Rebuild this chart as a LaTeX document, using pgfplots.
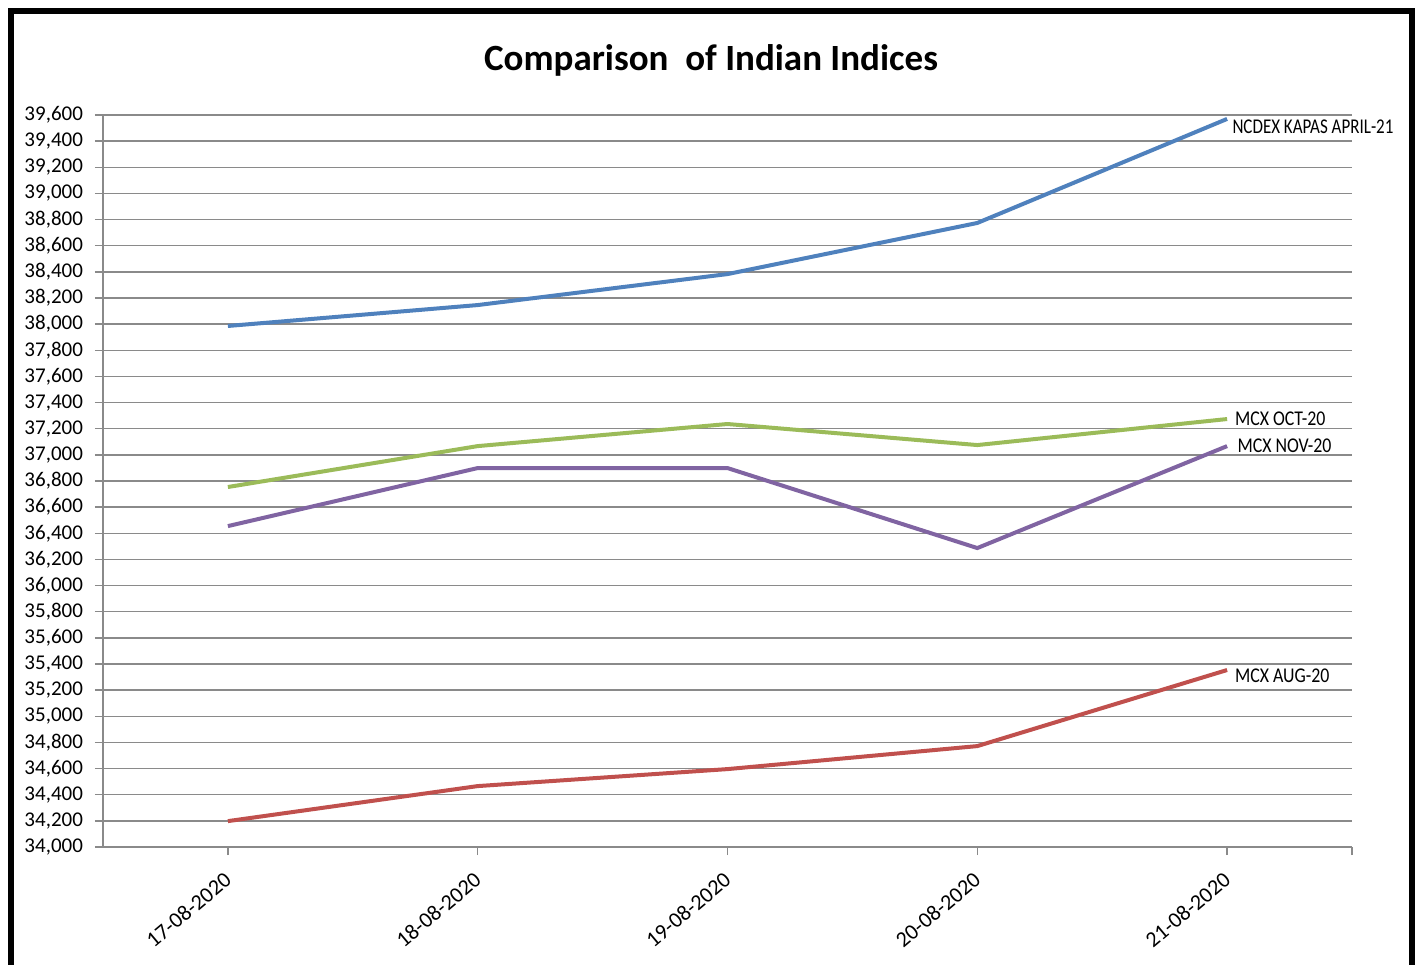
\documentclass[border=0pt]{standalone}
\usepackage{fontspec}
\setmainfont{Carlito}
\usepackage{pgfplots}
\pgfplotsset{compat=1.18}
\definecolor{sblue}{HTML}{4F81BD}
\definecolor{sred}{HTML}{C0504D}
\definecolor{sgreen}{HTML}{9BBB59}
\definecolor{spurple}{HTML}{8064A2}
\definecolor{gridgray}{HTML}{8A8A8A}
\begin{document}
\begin{tikzpicture}
\useasboundingbox (0,0) rectangle (711pt,482pt);
\draw[line width=3pt,black] (5.25pt,-20pt) -- (5.25pt,476.5pt) -- (706pt,476.5pt) -- (706pt,-20pt);
\node[font=\fontsize{18.5}{21}\selectfont\bfseries] at (355.5pt,452pt) {Comparison\ \ of Indian Indices};
\begin{axis}[
  at={(51.5pt,58.5pt)}, anchor=south west,
  scale only axis, width=624.5pt, height=366pt,
  clip=false,
  xmin=-0.5, xmax=4.5, ymin=34000, ymax=39600,
  axis x line=bottom, axis y line=left,
  axis line style={gridgray,line width=0.7pt,-},
  xtick={0,1,2,3,4},
  xticklabels={17-08-2020,18-08-2020,19-08-2020,20-08-2020,21-08-2020},
  extra x ticks={4.5}, extra x tick labels={},
  extra x tick style={grid=none},
  ytick={34000,34200,...,39600},
  scaled y ticks=false,
  ymajorgrids, grid style={gridgray,line width=0.7pt},
  tick align=outside, major tick length=4pt,
  tick style={gridgray,line width=0.7pt},
  yticklabel style={xshift=-2.5pt,font=\fontsize{10.5}{12}\selectfont},
  xticklabel style={rotate=40,anchor=north east,xshift=-3.5pt,yshift=-1pt,font=\fontsize{11}{13}\selectfont},
  /pgf/number format/.cd, fixed, 1000 sep={,}, assume math mode=true,
]
\addplot[sblue,line width=2pt] coordinates {(0,37986) (1,38146) (2,38383) (3,38774) (4,39570)};
\addplot[sgreen,line width=2pt] coordinates {(0,36754) (1,37067) (2,37236) (3,37075) (4,37274)};
\addplot[spurple,line width=2pt] coordinates {(0,36455) (1,36899) (2,36899) (3,36287) (4,37067)};
\addplot[sred,line width=2pt] coordinates {(0,34198) (1,34466) (2,34596) (3,34772) (4,35354)};
\node[anchor=west,font=\fontsize{10.5}{12}\selectfont,inner sep=0pt] at (axis cs:4.02,39510) {\scalebox{0.81}[1]{NCDEX KAPAS APRIL-21}};
\node[anchor=west,font=\fontsize{10.5}{12}\selectfont,inner sep=0pt] at (axis cs:4.03,37274) {\scalebox{0.85}[1]{MCX OCT-20}};
\node[anchor=west,font=\fontsize{10.5}{12}\selectfont,inner sep=0pt] at (axis cs:4.04,37067) {\scalebox{0.85}[1]{MCX NOV-20}};
\node[anchor=west,font=\fontsize{10.5}{12}\selectfont,inner sep=0pt] at (axis cs:4.03,35310) {\scalebox{0.85}[1]{MCX AUG-20}};
\end{axis}
\end{tikzpicture}
\end{document}
